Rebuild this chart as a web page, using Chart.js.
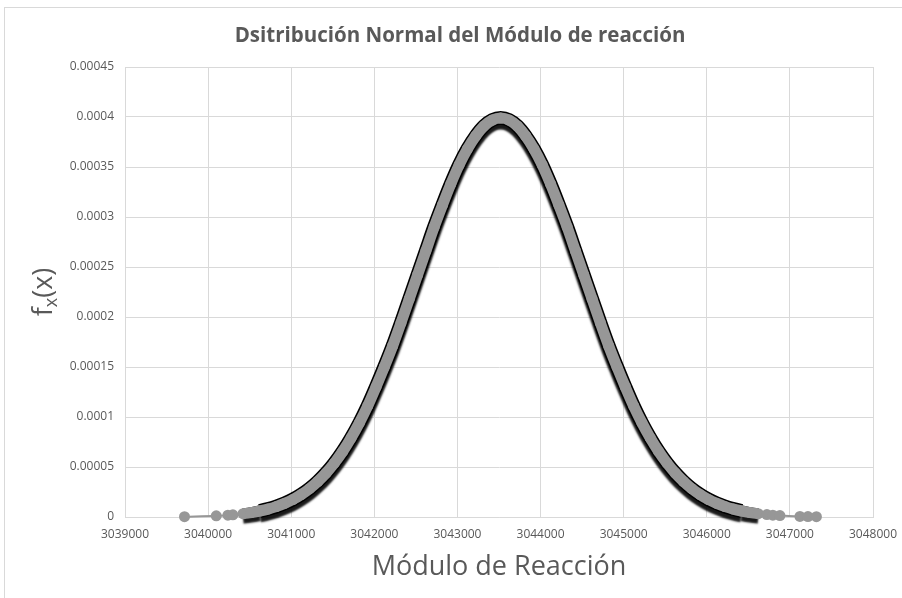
<!DOCTYPE html>
<html>
<head>
<meta charset="utf-8">
<title>Distribución normal</title>
<script src="https://cdn.jsdelivr.net/npm/chart.js@4.4.1/dist/chart.umd.min.js"></script>
<style>
  html, body { margin: 0; padding: 0; background: #fff; }
  #wrap { position: relative; width: 902px; height: 598px; }
  #frame { position: absolute; left: 4px; top: 7px; right: 0; bottom: 0;
           border-left: 1px solid #d9d9d9; border-top: 1px solid #d9d9d9; pointer-events: none; }
  canvas { position: absolute; left: 0; top: 0; }
</style>
</head>
<body>
<div id="wrap">
  <canvas id="normalChart" width="902" height="598"></canvas>
  <div id="frame"></div>
</div>
<script>
// Módulo de reacción (x) y densidad normal fx(x)
const moduloReaccion = [
  3039716, 3040098, 3040238, 3040298,
  3040420, 3040520, 3040620, 3040720, 3040820, 3040920, 3041020, 3041120, 3041220, 3041320,
  3041420, 3041520, 3041620, 3041720, 3041820, 3041920, 3042020, 3042120, 3042220, 3042320,
  3042420, 3042520, 3042620, 3042720, 3042820, 3042920, 3043020, 3043120, 3043220, 3043320,
  3043420, 3043520, 3043620, 3043720, 3043820, 3043920, 3044020, 3044120, 3044220, 3044320,
  3044420, 3044520, 3044620, 3044720, 3044820, 3044920, 3045020, 3045120, 3045220, 3045320,
  3045420, 3045520, 3045620, 3045720, 3045820, 3045920, 3046020, 3046120, 3046220, 3046320,
  3046420, 3046520, 3046620,
  3046723, 3046795, 3046880, 3047121, 3047217, 3047319
];
const densidad = [
  0.00000029, 0.00000115, 0.00000184, 0.0000022,
  0.0000033, 0.0000044, 0.0000060, 0.0000079, 0.0000104, 0.0000136, 0.0000175, 0.0000224, 0.0000283, 0.0000355,
  0.0000440, 0.0000540, 0.0000656, 0.0000790, 0.0000941, 0.000111, 0.000130, 0.000150, 0.000171, 0.000194,
  0.000218, 0.000242, 0.000266, 0.000290, 0.000312, 0.000333, 0.000352, 0.000368, 0.000381, 0.000391,
  0.000397, 0.000399, 0.000397, 0.000391, 0.000381, 0.000368, 0.000352, 0.000333, 0.000312, 0.000290,
  0.000266, 0.000242, 0.000218, 0.000194, 0.000171, 0.000150, 0.000130, 0.000111, 0.0000941, 0.0000790,
  0.0000656, 0.0000540, 0.0000440, 0.0000355, 0.0000283, 0.0000224, 0.0000175, 0.0000136, 0.0000104, 0.0000079,
  0.0000060, 0.0000044, 0.0000033,
  0.0000024, 0.00000184, 0.0000014, 0.00000061, 0.00000042, 0.00000029
];
const xTicks = [3039000, 3040000, 3041000, 3042000, 3043000, 3044000, 3045000, 3046000, 3047000, 3048000];
const yTicks = [0, 0.00005, 0.0001, 0.00015, 0.0002, 0.00025, 0.0003, 0.00035, 0.0004, 0.00045];

const puntos = moduloReaccion.map((x, i) => ({ x: x, y: densidad[i] }));

const GRIS = '#979797';
const TEXTO = '#595959';
const REJILLA = '#d9d9d9';

// un tramo es "denso" cuando ambos extremos superan el umbral
function tramo(ctx, umbral) {
  return densidad[ctx.p0DataIndex] >= umbral && densidad[ctx.p1DataIndex] >= umbral;
}

// sombra negra bajo la banda
const sombraBanda = {
  id: 'sombraBanda',
  beforeDatasetDraw(chart, args) {
    if (args.index !== 1) return;
    const ctx = chart.ctx;
    ctx.save();
    ctx.shadowColor = 'rgba(0,0,0,0.9)';
    ctx.shadowBlur = 2;
    ctx.shadowOffsetY = 4.5;
  },
  afterDatasetDraw(chart, args) {
    if (args.index !== 1) return;
    chart.ctx.restore();
  }
};

// título del eje y con subíndice: f_x(x)
const tituloY = {
  id: 'tituloY',
  afterDraw(chart) {
    const { ctx, chartArea } = chart;
    const grande = '27px "Open Sans"';
    const chica = '18px "Open Sans"';
    ctx.save();
    ctx.translate(42, (chartArea.top + chartArea.bottom) / 2);
    ctx.rotate(-Math.PI / 2);
    ctx.fillStyle = TEXTO;
    ctx.textBaseline = 'alphabetic';
    ctx.font = grande;
    const wf = ctx.measureText('f').width;
    const wp = ctx.measureText('(x)').width;
    ctx.font = chica;
    const ws = ctx.measureText('x').width;
    const x0 = -(wf + ws + wp) / 2;
    ctx.font = grande;
    ctx.fillText('f', x0, 10);
    ctx.font = chica;
    ctx.fillText('x', x0 + wf, 15);
    ctx.font = grande;
    ctx.fillText('(x)', x0 + wf + ws, 10);
    ctx.restore();
  }
};

new Chart(document.getElementById('normalChart'), {
  type: 'scatter',
  data: {
    datasets: [{
      label: 'marcadores',
      data: puntos,
      order: 1,
      showLine: true,
      cubicInterpolationMode: 'monotone',
      borderColor: GRIS,
      borderWidth: 2,
      segment: { borderWidth: ctx => tramo(ctx, 0.000003) ? 11 : 2 },
      pointRadius: 5.5,
      pointBackgroundColor: GRIS,
      pointBorderColor: GRIS,
      pointBorderWidth: 0,
      clip: false
    }, {
      label: 'borde',
      data: puntos,
      order: 2,
      showLine: true,
      cubicInterpolationMode: 'monotone',
      borderColor: '#000',
      borderWidth: 14,
      segment: {
        borderColor: ctx => tramo(ctx, 0.000003) ? '#000' : 'rgba(0,0,0,0)',
        borderWidth: ctx => tramo(ctx, 0.000006) ? 14 : 11
      },
      pointRadius: 0,
      clip: false
    }]
  },
  options: {
    responsive: false,
    animation: false,
    events: [],
    layout: { padding: { left: 47, right: 29, top: 0, bottom: 0 } },
    plugins: {
      legend: { display: false },
      tooltip: { enabled: false },
      title: {
        display: true,
        text: 'Dsitribución Normal del Módulo de reacción',
        color: TEXTO,
        font: { family: 'Open Sans', size: 20.5, weight: 'bold', lineHeight: 1.2 },
        padding: { top: 23.7, bottom: 18.7 }
      }
    },
    scales: {
      x: {
        type: 'linear',
        min: xTicks[0],
        max: xTicks[xTicks.length - 1],
        afterBuildTicks: s => { s.ticks = xTicks.map(v => ({ value: v })); },
        afterFit: s => { s.height = 81; s.paddingLeft = 0; s.paddingRight = 0; },
        ticks: {
          color: TEXTO,
          font: { family: 'Open Sans', size: 12 },
          padding: 10,
          maxRotation: 0,
          callback: v => String(v)
        },
        grid: { color: REJILLA, drawTicks: false },
        border: { color: REJILLA },
        title: {
          display: true,
          text: 'Módulo de Reacción',
          color: TEXTO,
          font: { family: 'Open Sans', size: 27, lineHeight: 1.2 },
          padding: { top: 0, bottom: 14 }
        }
      },
      y: {
        min: yTicks[0],
        max: yTicks[yTicks.length - 1],
        afterBuildTicks: s => { s.ticks = yTicks.map(v => ({ value: v })); },
        afterFit: s => { s.width = 78; },
        ticks: {
          color: TEXTO,
          font: { family: 'Open Sans', size: 12 },
          padding: 11,
          callback: v => String(Number(v.toFixed(6)))
        },
        grid: { color: REJILLA, drawTicks: false },
        border: { color: REJILLA }
      }
    }
  },
  plugins: [sombraBanda, tituloY]
});
</script>
</body>
</html>
